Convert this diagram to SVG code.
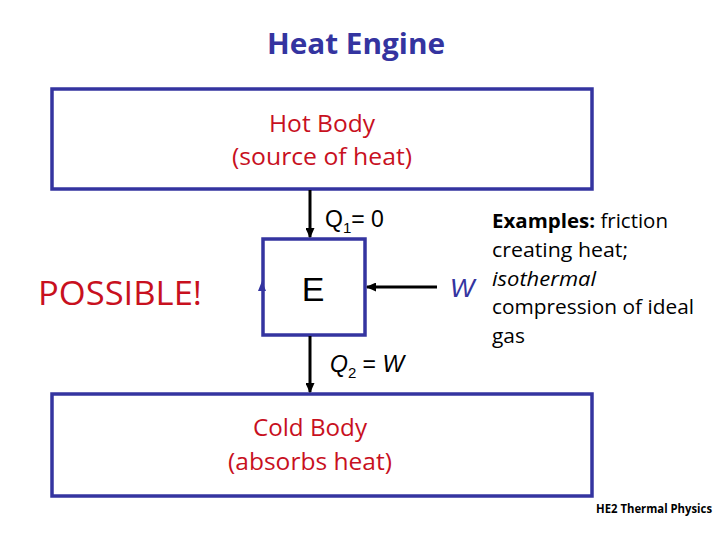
<svg xmlns="http://www.w3.org/2000/svg" width="720" height="540" viewBox="0 0 720 540">
<defs>
<style>
.box{fill:#fff;stroke:#3434A0;stroke-width:3.5}
.cal{font-family:"Open Sans","Noto Sans",sans-serif}
.ari{font-family:"Liberation Sans",Arial,sans-serif}
.red{fill:#C8101E}
.blue{fill:#3434A0}
.conn{stroke:#000;stroke-width:3;fill:none}
</style>
<marker id="ah" markerWidth="3.4" markerHeight="3" refX="3" refY="1.5" orient="auto" markerUnits="strokeWidth">
<path d="M0,0 L3.4,1.5 L0,3 Z" fill="#000"/>
</marker>
</defs>
<rect width="720" height="540" fill="#fff"/>
<text class="cal blue" x="356" y="54" font-size="28" font-weight="bold" text-anchor="middle" textLength="178" lengthAdjust="spacingAndGlyphs">Heat Engine</text>
<g id="hot">
<rect class="box" x="52" y="89" width="540" height="100"/>
<text class="cal red" x="322" y="132" font-size="23" text-anchor="middle" textLength="106" lengthAdjust="spacingAndGlyphs">Hot Body</text>
<text class="cal red" x="322" y="165" font-size="23" text-anchor="middle" textLength="180" lengthAdjust="spacingAndGlyphs">(source of heat)</text>
</g>
<g id="engine">
<rect class="box" x="263" y="239" width="102" height="96"/>
<text class="ari" x="313" y="301" font-size="34" text-anchor="middle">E</text>
<path d="M258,291 L262,281 L266,291 Z" fill="#3434A0"/>
</g>
<g id="cold">
<rect class="box" x="52" y="394" width="540" height="102"/>
<text class="cal red" x="310" y="436" font-size="23" text-anchor="middle" textLength="114" lengthAdjust="spacingAndGlyphs">Cold Body</text>
<text class="cal red" x="310" y="470" font-size="23" text-anchor="middle" textLength="164" lengthAdjust="spacingAndGlyphs">(absorbs heat)</text>
</g>
<g id="connectors">
<line class="conn" x1="310" y1="190" x2="310" y2="237" marker-end="url(#ah)"/>
<line class="conn" x1="437" y1="287" x2="367" y2="287" marker-end="url(#ah)"/>
<line class="conn" x1="310" y1="336" x2="310" y2="392" marker-end="url(#ah)"/>
</g>
<g id="labels">
<text class="ari" x="325" y="227" font-size="23">Q<tspan font-size="15" dy="6">1</tspan><tspan dy="-6">= 0</tspan></text>
<text class="ari" x="330" y="372" font-size="23" font-style="italic">Q<tspan font-size="15" dy="6" font-style="normal">2</tspan><tspan dy="-6" font-style="normal"> = </tspan>W</text>
<text class="ari blue" x="450" y="297" font-size="26" font-style="italic">W</text>
<text class="cal red" x="38" y="305" font-size="32" textLength="164" lengthAdjust="spacingAndGlyphs">POSSIBLE!</text>
</g>
<g id="examples" class="cal" font-size="20">
<text x="492" y="228" textLength="176" lengthAdjust="spacingAndGlyphs"><tspan font-weight="bold">Examples:</tspan> friction</text>
<text x="492" y="257" textLength="136" lengthAdjust="spacingAndGlyphs">creating heat;</text>
<text x="492" y="286" font-style="italic" textLength="104" lengthAdjust="spacingAndGlyphs">isothermal</text>
<text x="492" y="314" textLength="202" lengthAdjust="spacingAndGlyphs">compression of ideal</text>
<text x="492" y="343" textLength="33" lengthAdjust="spacingAndGlyphs">gas</text>
</g>
<text class="cal" x="596" y="513" font-size="12" font-weight="bold" textLength="116" lengthAdjust="spacingAndGlyphs">HE2 Thermal Physics</text>
</svg>
